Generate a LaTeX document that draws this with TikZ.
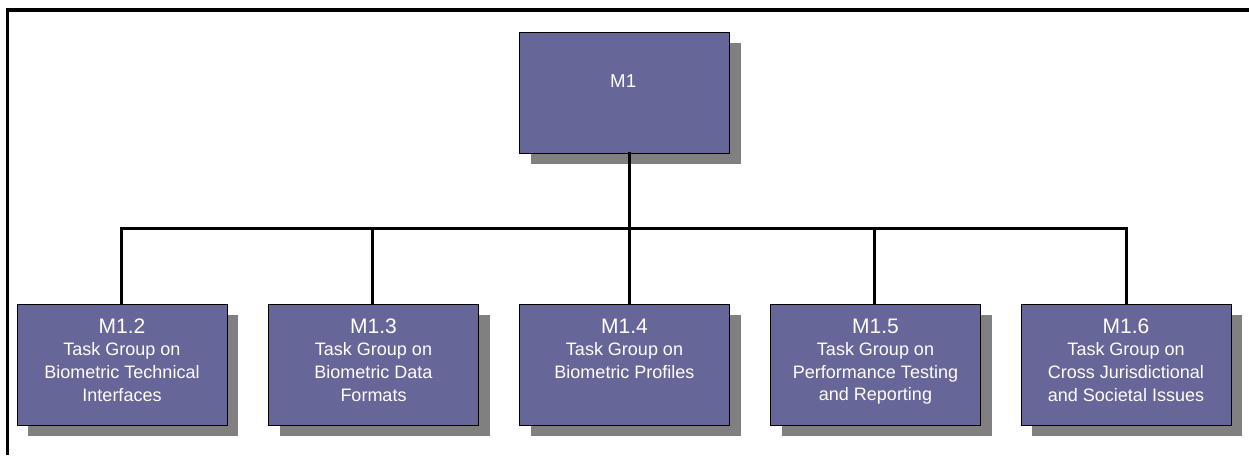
\documentclass[tikz,border=0pt]{standalone}
\usepackage{fontspec}
\setmainfont{Liberation Sans}
\usetikzlibrary{shadows}
\definecolor{boxfill}{HTML}{666699}
\definecolor{shadowgrey}{HTML}{808080}
\begin{document}
\begin{tikzpicture}[
  x=0.75pt, y=-0.75pt,
  box/.style={draw=black, line width=0.75pt, fill=boxfill,
    minimum width=157.5pt, minimum height=90.75pt, inner sep=0pt,
    drop shadow={shadow xshift=8.25pt, shadow yshift=-8.6pt,
      fill=shadowgrey, draw=none, opacity=1}},
  toplabel/.style={text=white, inner sep=0pt, anchor=base,
    font=\fontsize{14}{16.9}\selectfont},
  boxlabel/.style={text=white, inner sep=0pt, anchor=north, align=center,
    font=\fontsize{13.5}{16.9}\selectfont},
  link/.style={line width=2.25pt, line cap=rect},
  frameline/.style={line width=2.4pt}
]
\useasboundingbox (0,0) rectangle (1249,455);

% frame edges (top and left only)
\draw[frameline] (7.5,455) -- (7.5,10) -- (1249,10);

% root box
\node[box] (m1) at (624.5,92.5) {};
\node[toplabel] (m1t) at ([xshift=-1pt,yshift=-42.2pt]m1.north) {M1};

% task group boxes
\node[box] (m12) at (122,364.5) {};
\node[box] (m13) at (373.5,364.5) {};
\node[box] (m14) at (624.5,364.5) {};
\node[box] (m15) at (875.5,364.5) {};
\node[box] (m16) at (1126,364.5) {};

\newcommand{\grouptitle}[1]{{\fontsize{15.75}{16.9}\selectfont #1}}
\node[boxlabel] (m12t) at ([yshift=-11.25pt]m12.north)
  {\grouptitle{M1.2}\\Task Group on\\Biometric Technical\\Interfaces};
\node[boxlabel] (m13t) at ([yshift=-11.25pt]m13.north)
  {\grouptitle{M1.3}\\Task Group on\\Biometric Data\\Formats};
\node[boxlabel] (m14t) at ([yshift=-11.25pt]m14.north)
  {\grouptitle{M1.4}\\Task Group on\\Biometric Profiles};
\node[boxlabel] (m15t) at ([yshift=-11.25pt]m15.north)
  {\grouptitle{M1.5}\\Task Group on\\Performance Testing\\and Reporting};
\node[boxlabel] (m16t) at ([yshift=-11.25pt]m16.north)
  {\grouptitle{M1.6}\\Task Group on\\Cross Jurisdictional\\and Societal Issues};

% connectors
\coordinate (busy) at (0,228.5);
\coordinate (drop) at ([xshift=3.4pt]m1.south);
\draw[link] (drop) -- (drop |- m14.north);
\draw[link] (m12.north -| m12.north) ++(-0.75pt,0) coordinate (l12) -- (l12 |- busy)
  -- (busy -| m16.north) -- (m16.north);
\draw[link] ([xshift=-1pt]m13.north) -- ([xshift=-1pt]m13.north |- busy);
\draw[link] ([xshift=-0.4pt]m15.north) -- ([xshift=-0.4pt]m15.north |- busy);

\end{tikzpicture}
\end{document}
